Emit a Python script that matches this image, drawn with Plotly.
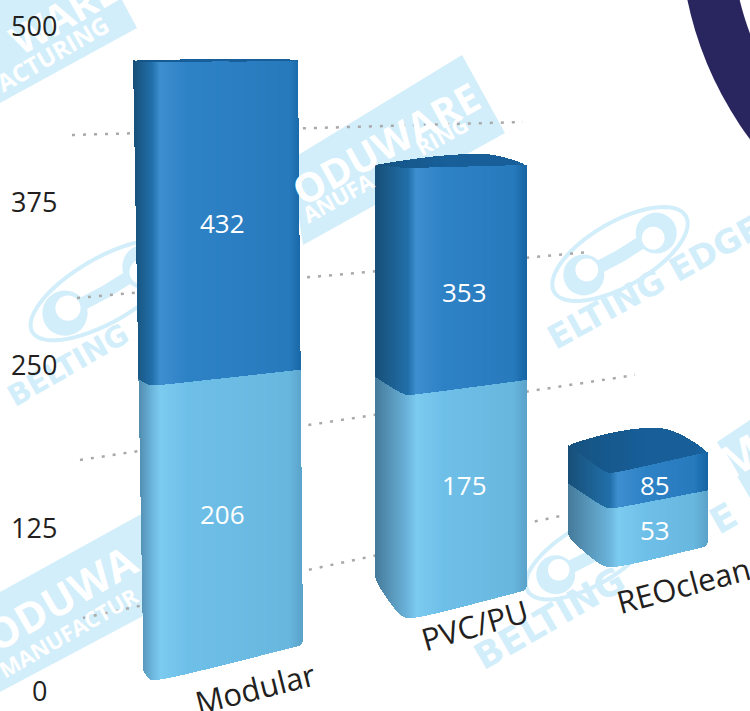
import math
import plotly.graph_objects as go

# ---- data ----
categories = ["Modular", "PVC/PU", "REOclean"]
upper_values = [432, 353, 85]
lower_values = [206, 175, 53]
tick_values = [0, 125, 250, 375, 500]
tick_labels = ["0", "125", "250", "375", "500"]

# ---- layout constants (pixels of the 750x711 page) ----
W, H = 750, 711
FONT = "Open Sans"
PALE = "#d2eefa"
baselines = [680, 618, 567]
scales = [1.43, 1.275, 1.108]
folds = [(133, 152, 303), (375, 408, 527), (568, 610, 708)]
edges = [(133, 143, 298, 303, 60, 642), (375, 375, 527, 524, 160, 590), (568, 568, 708, 708, 445, 546)]
bottom_rise = [(38, 35), (38, 28), (30, 21)]
middle_rise = [(10, 16), (18, 15), (25, 18)]
top_rise = [(2, 2), (3, 3), (28, 21)]
cap_peak = [(220, 3), (480, 14), (655, 45)]

DARK = ["#174f78", "#2270aa", "#3d8fd0", "#2e82c6", "#277bbd", "#1664a3"]
LIGHT = ["#457a9a", "#6cb5dc", "#7ccbf0", "#6fc0e9", "#68b7df", "#5aa2c9"]
CAP = ["#16527f", "#175a90", "#175a90", "#185f99", "#185f99", "#1b68a8"]
STEP = 1


def hex2rgb(c):
    return [int(c[i:i + 2], 16) for i in (1, 3, 5)]


def shade(stops, x, xl, xf, xr):
    pos = [xl, xf, xf + 8, xf + 35, xr - 14, xr]
    for i in range(5):
        if x <= pos[i + 1]:
            t = (x - pos[i]) / max(pos[i + 1] - pos[i], 1)
            a, b = hex2rgb(stops[i]), hex2rgb(stops[i + 1])
            return "rgb(%d,%d,%d)" % tuple(a[k] + (b[k] - a[k]) * max(t, 0) for k in range(3))
    return stops[-1]


def rise(x, xl, xf, xr, pair, r=6):
    if x < xf:
        end, span = pair[0], xf - xl
    else:
        end, span = pair[1], xr - xf
    full = math.hypot(span, r) - r
    return end * (math.hypot(x - xf, r) - r) / full


def corner(x, xl, xr, r):
    d = min(x - xl, xr - x)
    if d >= r:
        return 0
    return r - math.sqrt(max(r * r - (r - d) ** 2, 0))


fig = go.Figure()
fig.add_trace(go.Scatter(x=[0, 750], y=[0, 500], mode="markers", marker=dict(opacity=0),
                         hoverinfo="skip", showlegend=False, yaxis="y"))

for i, cat in enumerate(categories):
    xl, xf, xr = folds[i]
    s = scales[i]
    e = edges[i]
    lo, up = lower_values[i], upper_values[i]
    xs = [xl + STEP * (k + .5) for k in range(int((xr - xl) / STEP))]
    segs = {"light": ([], [], []), "dark": ([], [], []), "cap": ([], [], [])}
    for x in xs:
        v0 = rise(x, xl, xf, xr, bottom_rise[i], 14) / s + corner(x, xl, xr, 5) / s
        v1 = lo + rise(x, xl, xf, xr, middle_rise[i], 6) / s
        v2 = up + rise(x, xl, xf, xr, top_rise[i], 6) / s
        px_, pk = cap_peak[i]
        base_back = top_rise[i][0] if x < px_ else top_rise[i][1]
        frac = (x - xl) / (px_ - xl) if x < px_ else (xr - x) / (xr - px_)
        frac = math.sin(frac * math.pi / 2)
        v3 = up + (base_back + (pk - base_back) * frac) / s - corner(x, xl, xr, 6) / s
        v3 = max(v3, v2)
        if e[1] > e[0] and x < e[1]:
            y_lim = e[4] + (x - e[0]) / (e[1] - e[0]) * (e[5] - e[4])
            v0 = max(v0, (baselines[i] - y_lim) / s)
        if x > e[2]:
            if e[3] > e[2]:
                y_lim = e[5] - (e[5] - e[4]) * (e[3] - x) / (e[3] - e[2])
                v3 = min(v3, (baselines[i] - y_lim) / s)
                v2 = min(v2, v3)
                v1 = min(v1, v3)
            elif x > e[3]:
                y_lim = e[4] + (xr - x) / max(xr - e[3], 1) * (e[5] - e[4])
                v0 = max(v0, (baselines[i] - y_lim) / s)
        v1b = max(v1, v0)
        for key, a, b, st in (("light", v0, v1, LIGHT), ("dark", v1b, v2, DARK), ("cap", v2, v3, CAP)):
            segs[key][0].append(a)
            segs[key][1].append(max(b - a, 0))
            segs[key][2].append(shade(st, x, xl, xf, xr))
    for key in ("light", "dark", "cap"):
        b, h, c = segs[key]
        fig.add_trace(go.Bar(x=xs, y=h, base=b, width=STEP, name=cat + " " + key,
                             marker=dict(color=c, line=dict(width=0)),
                             yaxis="y%d" % (i + 2), hoverinfo="skip", showlegend=False))


def px(x, y):
    return x / W, 1 - y / H


def poly(points, close=True):
    pts = [px(*p) for p in points]
    return "M " + " L ".join("%.5f %.5f" % p for p in pts) + (" Z" if close else "")


def ellipse_path(cx, cy, a, b, deg):
    t = math.radians(deg)
    pts = []
    for k in range(60):
        u = 2 * math.pi * k / 60
        ex, ey = a * math.cos(u), b * math.sin(u)
        pts.append((cx + ex * math.cos(t) - ey * math.sin(t), cy + ex * math.sin(t) + ey * math.cos(t)))
    return poly(pts)


shapes = []


def add_path(path, fill=None, line=None, width=0):
    d = dict(type="path", xref="paper", yref="paper", path=path, layer="below",
             line=dict(color=line or "rgba(0,0,0,0)", width=width))
    if fill:
        d["fillcolor"] = fill
    shapes.append(d)


def add_circle(cx, cy, r, color):
    x0, y1 = px(cx - r, cy - r)
    x1, y0 = px(cx + r, cy + r)
    shapes.append(dict(type="circle", xref="paper", yref="paper", x0=x0, x1=x1, y0=y0, y1=y1,
                       layer="below", fillcolor=color, line=dict(width=0)))


add_circle(1034, -72, 354, "#29265f")
add_circle(1034, -72, 303, "#ffffff")

add_path(poly([(0, 103), (137, 28), (122, 0), (0, 0)]), fill=PALE)
add_path(poly([(462, 55), (505, 133), (303, 245), (290, 160)]), fill=PALE)
add_path(poly([(0, 592), (145, 512), (145, 615), (0, 692)]), fill=PALE)
add_path(poly([(717, 442), (750, 420), (750, 498)]), fill=PALE)


def logo(cx, cy, a, b):
    add_path(ellipse_path(cx, cy, a, b, -30), line=PALE, width=4)
    c, sn = math.cos(math.radians(-30)), math.sin(math.radians(-30))
    p1 = (cx - .55 * a * c, cy - .55 * a * sn)
    p2 = (cx + .55 * a * c, cy + .55 * a * sn)
    add_path(poly([p1, (cx, cy + 2), p2], close=False), line=PALE, width=13)
    add_circle(p1[0], p1[1], .27 * a, PALE)
    add_circle(p2[0], p2[1], .27 * a, PALE)
    add_circle(p1[0] + 3, p1[1] - 5, .15 * a, "#ffffff")
    add_circle(p2[0] - 3, p2[1] + 5, .15 * a, "#ffffff")


logo(105, 290, 84, 32)
logo(620, 254, 76, 32)
logo(590, 555, 72, 30)

guides = [[(72, 135), (523, 122)], [(77, 298), (590, 252)], [(80, 460), (635, 375)], [(83, 618), (565, 515)]]
for g in guides:
    (x0, y0), (x1, y1) = px(*g[0]), px(*g[1])
    shapes.append(dict(type="line", xref="paper", yref="paper", x0=x0, y0=y0, x1=x1, y1=y1, layer="below",
                       line=dict(color="#a9a9a9", width=2.5, dash="3px,8px")))

annotations = []


def note(text, x, y, size, color, angle=0, family=FONT, bold=False):
    xp, yp = px(x, y)
    annotations.append(dict(text="<b>%s</b>" % text if bold else text, x=xp, y=yp, xref="paper", yref="paper",
                            showarrow=False, xanchor="center", yanchor="middle", textangle=angle,
                            font=dict(family=family, size=size, color=color)))


note("WARE", 62, 14, 40, "#ffffff", -30, bold=True)
note("ACTURING", 52, 53, 24, "#ffffff", -30, bold=True)
note("ODUWARE", 385, 143, 40, "#ffffff", -29, bold=True)
note("ANUFA", 338, 197, 22, "#ffffff", -29, bold=True)
note("RING", 442, 135, 22, "#ffffff", -29, bold=True)
note("ODUWA", 60, 597, 42, "#ffffff", -30, bold=True)
note("MANUFACTUR", 68, 632, 22, "#ffffff", -30, bold=True)
note("M", 740, 455, 44, "#ffffff", -30, bold=True)
note("BELTING", 68, 365, 29, PALE, -30, "DejaVu Sans", True)
note("ELTING EDGE", 654, 282, 33, PALE, -29, "DejaVu Sans", True)
note("BELTING", 549, 618, 36, PALE, -30, "DejaVu Sans", True)
note("E", 723, 518, 36, PALE, -30, "DejaVu Sans", True)

cat_pos = [(255, 688, -14), (474, 625, -16), (683, 585, -15)]
for name, (x, y, a) in zip(categories, cat_pos):
    note(name, x, y, 31, "#231f20", a)

label_pos = [((222, 223), (222, 514)), ((464, 292), (464, 485)), ((655, 485), (655, 530))]
for up, lo, (pu, pl) in zip(upper_values, lower_values, label_pos):
    note(str(up), pu[0], pu[1], 26, "#ffffff")
    note(str(lo), pl[0], pl[1], 26, "#ffffff")


def yrange(base, s):
    return [(base - H) / s, base / s]


axis_px = 162.67 / 125
main_range = [(690 - H) / axis_px, 690 / axis_px]
# the printed "500" sits higher than the linear scale would put it
tick_positions = [0, 125, 250, 375, 511]
tick_x = [39, 34, 34, 34, 34]
for label, value, x in zip(tick_labels, tick_positions, tick_x):
    annotations.append(dict(text=label, x=x / W, xref="paper", y=value, yref="y", showarrow=False,
                            xanchor="center", yanchor="middle",
                            font=dict(family=FONT, size=27, color="#231f20")))

hidden = dict(visible=False, overlaying="y", showgrid=False, zeroline=False, fixedrange=True)
fig.update_layout(
    width=W, height=H, margin=dict(l=0, r=0, t=0, b=0), autosize=False,
    paper_bgcolor="#ffffff", plot_bgcolor="rgba(0,0,0,0)",
    barmode="overlay", bargap=0, showlegend=False,
    xaxis=dict(range=[0, W], visible=False, showgrid=False, zeroline=False),
    yaxis=dict(range=main_range, visible=False, showgrid=False, zeroline=False),
    yaxis2=dict(range=yrange(baselines[0], scales[0]), **hidden),
    yaxis3=dict(range=yrange(baselines[1], scales[1]), **hidden),
    yaxis4=dict(range=yrange(baselines[2], scales[2]), **hidden),
    shapes=shapes, annotations=annotations,
)
fig.write_html("out.html", config={"displayModeBar": False},
               post_script="document.body.style.margin='0';")
